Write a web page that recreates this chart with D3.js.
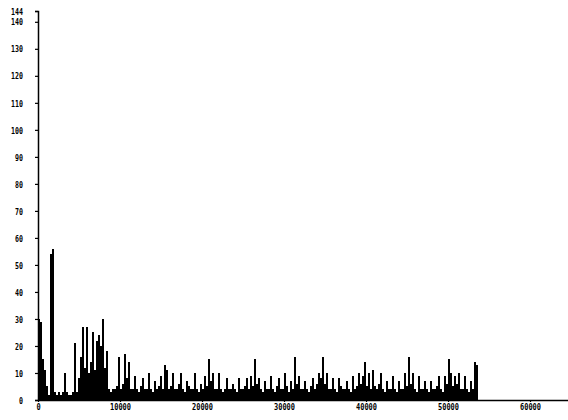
<!DOCTYPE html>
<html>
<head>
<meta charset="utf-8">
<script src="https://cdn.jsdelivr.net/npm/d3@7"></script>
<style>
  html, body { margin: 0; padding: 0; background: #fff; }
  svg { display: block; }
  .lbl { font-family: "DejaVu Sans Mono", monospace; font-weight: bold; font-size: 9px; fill: #000; }
</style>
</head>
<body>
<svg id="chart" width="568" height="420"></svg>
<script>
// ---- data ----
const binWidth = 244;
const counts = [
  30, 29, 15, 11, 5, 2, 54, 56, 3, 2,
  3, 2, 3, 10, 3, 2, 2, 3, 21, 3,
  8, 16, 27, 12, 27, 10, 14, 25, 11, 22,
  24, 20, 30, 12, 18, 4, 3, 4, 4, 5,
  16, 4, 6, 17, 8, 14, 4, 4, 9, 4,
  3, 5, 8, 4, 4, 10, 4, 3, 7, 4,
  5, 9, 4, 13, 11, 4, 5, 10, 4, 4,
  6, 10, 4, 3, 7, 5, 4, 4, 10, 4,
  3, 6, 4, 9, 5, 15, 7, 10, 4, 4,
  10, 4, 3, 4, 8, 4, 4, 6, 4, 3,
  8, 4, 4, 5, 8, 4, 9, 5, 15, 6,
  8, 4, 3, 7, 4, 4, 9, 4, 3, 5,
  8, 4, 4, 10, 5, 3, 7, 4, 16, 6,
  9, 4, 4, 7, 4, 3, 5, 8, 4, 6,
  10, 8, 16, 6, 10, 4, 4, 8, 4, 3,
  8, 5, 4, 4, 7, 4, 3, 9, 4, 5,
  10, 6, 9, 14, 5, 10, 4, 11, 5, 4,
  6, 10, 4, 3, 7, 4, 4, 9, 4, 3,
  7, 4, 4, 10, 5, 16, 6, 10, 4, 3,
  9, 4, 4, 7, 4, 3, 7, 4, 4, 5,
  9, 4, 3, 9, 6, 15, 10, 5, 9, 6,
  10, 4, 4, 9, 4, 3, 7, 4, 14, 13
];
const yTicks = [0, 10, 20, 30, 40, 50, 60, 70, 80, 90, 100, 110, 120, 130, 140, 144];
const xTicks = [0, 10000, 20000, 30000, 40000, 50000, 60000];
const xMax = 65536;
const yMax = 144;

// ---- layout ----
const svg = d3.select("#chart");
const x = d3.scaleLinear().domain([0, xMax]).range([38, 575.4]);
const y = d3.scaleLinear().domain([0, yMax]).range([400, 11]);

const bins = counts.map((c, i) => ({ x0: i * binWidth, x1: (i + 1) * binWidth, v: c }));

svg.append("g")
  .selectAll("rect")
  .data(bins)
  .join("rect")
  .attr("x", d => x(d.x0))
  .attr("width", d => x(d.x1) - x(d.x0))
  .attr("y", d => y(d.v))
  .attr("height", d => y(0) - y(d.v))
  .attr("fill", "#000")
  .attr("shape-rendering", "crispEdges");

// y axis
const yAxis = d3.axisLeft(y).tickValues(yTicks).tickSize(3).tickFormat(d3.format("d"));
const gy = svg.append("g").attr("transform", "translate(38,0)").call(yAxis);
gy.select(".domain").attr("stroke", "#000").attr("stroke-width", 1.5);
gy.selectAll(".tick line").attr("stroke", "#000").attr("stroke-width", 1.2);
gy.selectAll(".tick text")
  .attr("class", "lbl")
  .attr("x", -15)
  .attr("dy", "0.35em")
  .attr("textLength", d => String(d).length * 4)
  .attr("lengthAdjust", "spacingAndGlyphs");
gy.attr("font-family", null).attr("font-size", null);

// x axis
const xAxis = d3.axisBottom(x).tickValues(xTicks).tickSize(2).tickSizeOuter(0).tickFormat(d3.format("d"));
const gx = svg.append("g").attr("transform", "translate(0,400)").call(xAxis);
gx.select(".domain").attr("stroke", "#000").attr("stroke-width", 1.5);
gx.selectAll(".tick line").attr("stroke", "#000").attr("stroke-width", 1.2);
gx.selectAll(".tick text")
  .attr("class", "lbl")
  .attr("y", 4)
  .attr("dy", "0.71em")
  .attr("textLength", d => String(d).length * 4.2)
  .attr("lengthAdjust", "spacingAndGlyphs");
gx.attr("font-family", null).attr("font-size", null);
</script>
</body>
</html>
